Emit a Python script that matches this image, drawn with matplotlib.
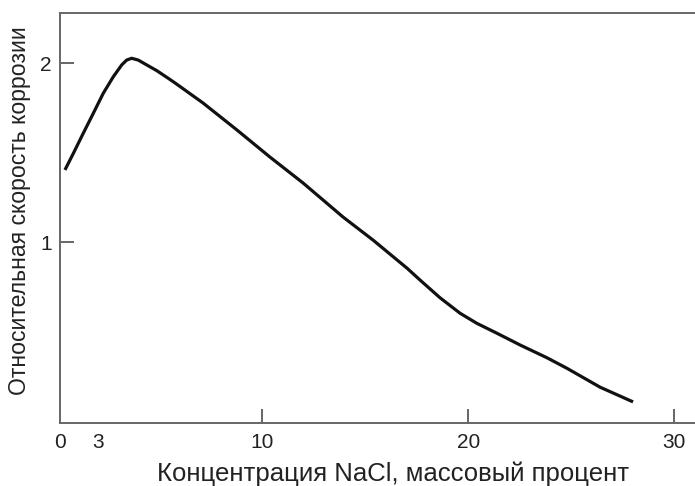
import matplotlib
matplotlib.use("Agg")
import matplotlib.pyplot as plt

# Relative corrosion rate of iron vs. NaCl concentration (mass %)
nacl_pct = [0.41, 0.82, 1.30, 1.79, 2.27, 2.76, 3.17, 3.41, 3.65, 3.97, 4.38,
            4.87, 5.43, 5.76, 7.12, 8.77, 10.37, 11.98, 13.92, 15.38, 17.03,
            17.66, 18.63, 19.61, 20.42, 21.39, 22.52, 23.82, 24.81, 26.41,
            28.01]
rel_rate = [1.404, 1.497, 1.609, 1.721, 1.832, 1.925, 1.991, 2.018, 2.028,
            2.018, 1.991, 1.959, 1.916, 1.890, 1.778, 1.627, 1.476, 1.331,
            1.141, 1.012, 0.855, 0.789, 0.690, 0.603, 0.547, 0.492, 0.426,
            0.355, 0.295, 0.190, 0.108]

x_ticks = [10, 20, 30]
x_tick_labels = ["10", "20", "30"]
x_extra_pos = [0.17, 2.0]
x_extra_labels = ["0", "3"]
y_ticks = [1, 2]
y_tick_labels = ["1", "2"]

plt.rcParams["font.family"] = ["Liberation Sans", "DejaVu Sans"]

fig = plt.figure(figsize=(6.95, 4.86), dpi=100)
ax = fig.add_axes([60 / 695, 63 / 486, 1 - 60 / 695, 410 / 486])

ax.plot(nacl_pct, rel_rate, color="#111111", lw=2.3,
        solid_joinstyle="round", solid_capstyle="butt")

ax.set_xlim(0.17, 31.02)
ax.set_ylim(-0.01, 2.281)

spine_col = "#666666"
for side in ("left", "bottom", "top"):
    ax.spines[side].set_color(spine_col)
    ax.spines[side].set_linewidth(1.4)
ax.spines["right"].set_visible(False)

ax.set_xticks(x_ticks)
ax.set_xticklabels(x_tick_labels)
ax.set_xticks(x_extra_pos, minor=True)
ax.set_xticklabels(x_extra_labels, minor=True)
ax.set_yticks(y_ticks)
ax.set_yticklabels(y_tick_labels)

ax.tick_params(axis="both", which="major", direction="in", length=10,
               width=1.4, color=spine_col, labelsize=15, labelcolor="#222222")
ax.tick_params(axis="x", which="minor", length=0, labelsize=15,
               labelcolor="#222222", pad=7.5)
ax.tick_params(axis="x", which="major", pad=7.5)
ax.tick_params(axis="y", which="major", pad=6)

ax.set_xlabel("Концентрация NaCl, массовый процент", fontsize=18.5,
              color="#222222")
ax.xaxis.set_label_coords(0.524, -0.095)
ax.set_ylabel("Относительная скорость коррозии", fontsize=16.6,
              color="#222222")
ax.yaxis.set_label_coords(-0.046, 0.517)

fig.savefig("out.png", dpi=100)
